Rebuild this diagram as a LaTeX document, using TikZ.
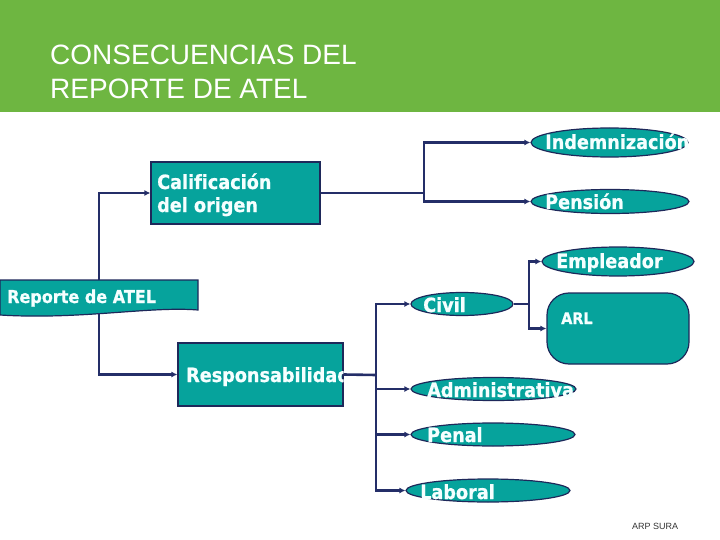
\documentclass[tikz,border=0pt]{standalone}
\usepackage{fontspec}
\usetikzlibrary{arrows.meta,shapes.geometric}
\setmainfont{Liberation Sans}
\newfontfamily\nodefont[FakeStretch=0.9, Ligatures=NoCommon, BoldFeatures={FakeBold=0.8}]{DejaVu Sans}
\definecolor{hdrgreen}{RGB}{110,182,65}
\definecolor{tealfill}{RGB}{6,163,156}
\definecolor{navy}{RGB}{30,40,90}
\definecolor{linecol}{RGB}{36,46,104}
\definecolor{txtwhite}{RGB}{245,255,255}
\tikzset{
  boxshape/.style={draw=navy, line width=1.2pt, fill=tealfill, inner sep=0pt},
  ellshape/.style={ellipse, draw=navy, line width=1.2pt, fill=tealfill, inner sep=0pt},
  lbl/.style={anchor=base west, inner sep=0pt, text=txtwhite, font=\nodefont\bfseries\fontsize{19.6}{23}\selectfont},
  connline/.style={draw=linecol, line width=2.6pt},
  arr/.style={connline, -{Latex[length=6pt,width=6pt]}},
}
\begin{document}
\begin{tikzpicture}[x=1pt,y=-1pt]
\useasboundingbox (0,0) rectangle (720,540);
% header
\fill[hdrgreen] (0,0) rectangle (720,112);
\node[anchor=base west, inner sep=0pt, text=white, font=\fontsize{28}{34}\selectfont] (t1) at (50,65) {CONSECUENCIAS DEL};
\node[anchor=base west, inner sep=0pt, text=white, font=\fontsize{28}{34}\selectfont] (t2) at (50,99) {REPORTE DE ATEL};

% boxes
\node[boxshape, minimum width=169pt, minimum height=62pt] (cal) at (235.5,193) {};
\node[boxshape, minimum width=165pt, minimum height=63pt] (resp) at (260.5,374.5) {};
\fill[tealfill, draw=navy, line width=1.2pt] (0,280) -- (198,280) -- (198,310) .. controls (150,306) and (80,320) .. (0,315) -- cycle;
\node[inner sep=0pt, minimum width=198pt, minimum height=33pt] (rep) at (99,296.5) {};
\node[boxshape, rounded corners=22pt, minimum width=142pt, minimum height=71pt] (arl) at (618,328.5) {};

% ellipses
\node[ellshape, minimum width=157pt, minimum height=29pt] (ind) at (609.5,142.5) {};
\node[ellshape, minimum width=158pt, minimum height=24pt] (pen) at (610,201.5) {};
\node[ellshape, minimum width=152pt, minimum height=29pt] (emp) at (618,261.5) {};
\node[ellshape, minimum width=102pt, minimum height=23pt] (civ) at (462,304) {};
\node[ellshape, minimum width=165pt, minimum height=23pt] (adm) at (493.5,389) {};
\node[ellshape, minimum width=164pt, minimum height=23pt] (pnl) at (493,434.5) {};
\node[ellshape, minimum width=164pt, minimum height=23pt] (lab) at (488,490.5) {};

% labels
\node[lbl] (tcal1) at (157,189) {Calificación};
\node[lbl] (tcal2) at (157,212) {del origen};
\node[lbl, font=\nodefont\bfseries\fontsize{17.8}{21}\selectfont] (trep) at (7,303) {Reporte de ATEL};
\begin{scope}
\clip (resp.south west) rectangle (resp.north east);
\node[lbl] (tresp) at (186,382) {Responsabilidad};
\end{scope}
\begin{scope}
\clip (ind.west |- ind.north) rectangle (ind.east |- ind.south);
\node[lbl] (tind) at (545,149) {Indemnización};
\end{scope}
\node[lbl] (tpen) at (545,209) {Pensión};
\node[lbl] (temp) at (556,268) {Empleador};
\node[lbl] (tciv) at (423,312) {Civil};
\node[lbl, font=\nodefont\bfseries\fontsize{16}{19}\selectfont] (tarl) at (561,324) {ARL};
\node[lbl] (tadm) at (427,397) {Administrativa};
\node[lbl] (tpnl) at (427,442) {Penal};
\node[lbl] (tlab) at (420,499) {Laboral};

% connectors
\coordinate (rtop) at (99,280);
\coordinate (rbot) at (99,313);
\draw[arr] (rtop) |- (cal.west);
\draw[arr] (rbot) |- (resp.west);
\coordinate (j1) at (424,193);
\draw[connline] (cal.east) -- (j1);
\draw[arr] (j1) |- (ind.west);
\draw[arr] (j1) |- (pen.west);
\coordinate (j2) at (529,304);
\draw[connline] (civ.east) -- (j2);
\draw[arr] (j2) |- (emp.west);
\draw[arr] (j2) |- (arl.west);
\coordinate (j3) at (376,375);
\draw[connline] (resp.east) -- (j3);
\draw[arr] (j3) |- (civ.west);
\draw[arr] (j3) |- (adm.west);
\draw[arr] (j3) |- (pnl.west);
\draw[arr] (j3) |- (lab.west);

\node[anchor=base west, inner sep=0pt, text=black!80, font=\fontsize{9}{11}\selectfont] (src) at (632,529) {ARP SURA};
\end{tikzpicture}
\end{document}
